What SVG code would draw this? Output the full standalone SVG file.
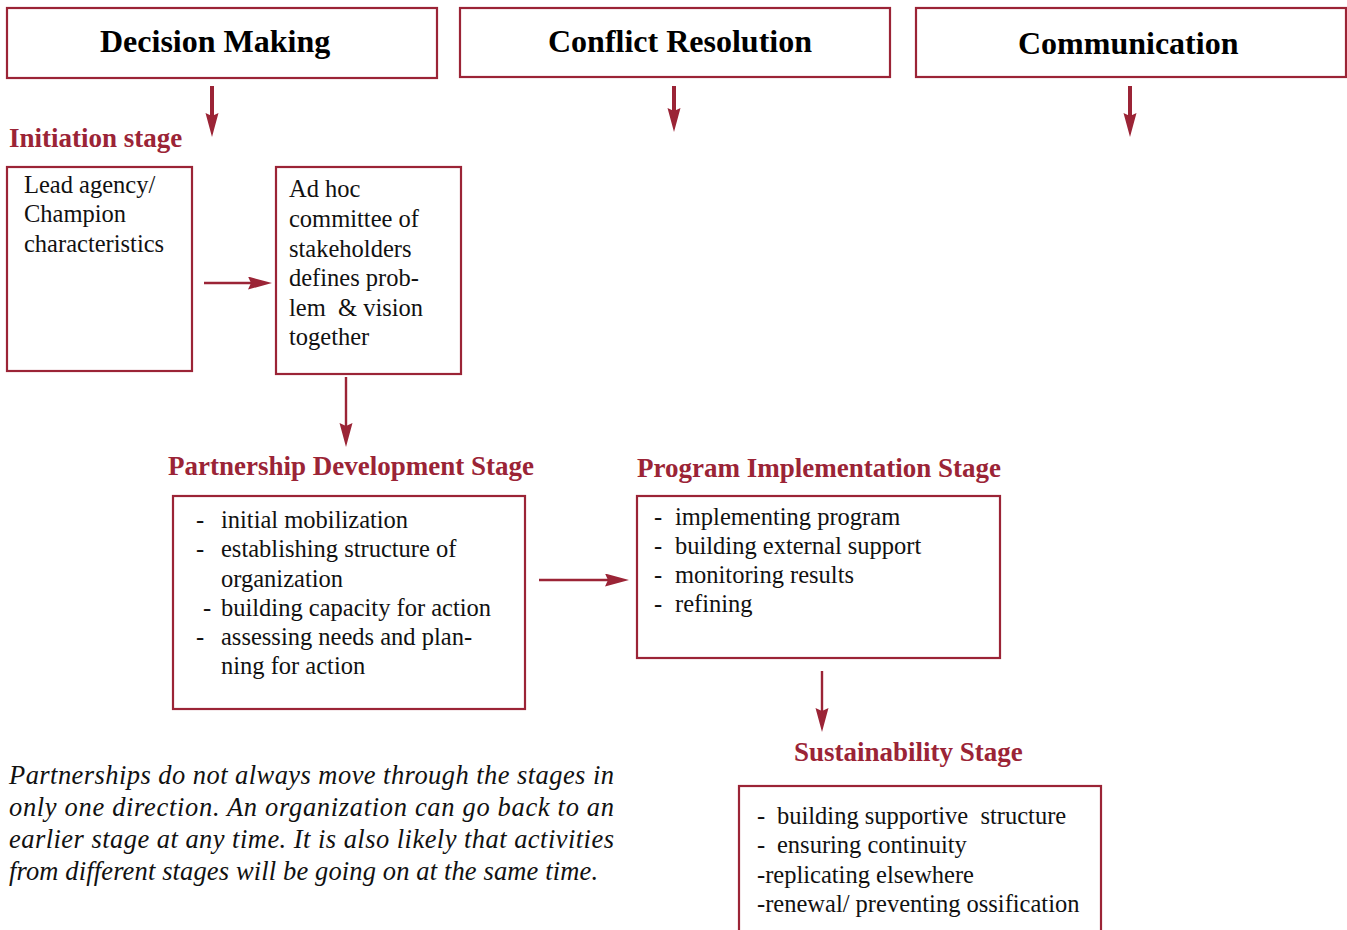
<svg xmlns="http://www.w3.org/2000/svg" width="1347" height="930" viewBox="0 0 1347 930">
  <defs>
    <style>
      .box { fill: #ffffff; stroke: #9b2436; stroke-width: 2.2; }
      .head { font-family: "Liberation Serif", "Times New Roman", serif; font-weight: bold; font-size: 32px; fill: #000000; }
      .stage { font-family: "Liberation Serif", "Times New Roman", serif; font-weight: bold; font-size: 27px; fill: #9b2436; }
      .body { font-family: "Liberation Serif", "Times New Roman", serif; font-size: 24.5px; fill: #111111; white-space: pre; }
      .note { font-family: "Liberation Serif", "Times New Roman", serif; font-style: italic; font-size: 26.5px; fill: #111111; }
      .conn { stroke: #9b2436; fill: none; }
      .thick { stroke-width: 4; }
      .thin { stroke-width: 2.4; }
    </style>
    <marker id="arrow" markerUnits="userSpaceOnUse" markerWidth="26" markerHeight="14" refX="14" refY="6.5" orient="auto">
      <path d="M0,0 L24,6.5 L0,13 L3,6.5 z" fill="#9b2436"/>
    </marker>
  </defs>

  <rect width="1347" height="930" fill="#ffffff"/>

  <!-- top category headers -->
  <g id="decision-making">
    <rect class="box" x="7" y="8" width="430" height="70"/>
    <text class="head" x="100" y="52">Decision Making</text>
  </g>
  <g id="conflict-resolution">
    <rect class="box" x="460" y="8" width="430" height="69"/>
    <text class="head" x="548" y="52">Conflict Resolution</text>
  </g>
  <g id="communication">
    <rect class="box" x="916" y="8" width="430" height="69"/>
    <text class="head" x="1018" y="54">Communication</text>
  </g>

  <!-- initiation stage -->
  <g id="initiation-label">
    <text class="stage" x="9" y="147">Initiation stage</text>
  </g>
  <g id="lead-agency">
    <rect class="box" x="7" y="167" width="185" height="204"/>
    <text class="body" x="24" y="193">Lead agency/</text>
    <text class="body" x="24" y="222">Champion</text>
    <text class="body" x="24" y="252">characteristics</text>
  </g>
  <g id="ad-hoc-committee">
    <rect class="box" x="276" y="167" width="185" height="207"/>
    <text class="body" x="289" y="197">Ad hoc</text>
    <text class="body" x="289" y="227">committee of</text>
    <text class="body" x="289" y="257">stakeholders</text>
    <text class="body" x="289" y="286">defines prob-</text>
    <text class="body" x="289" y="316">lem  &amp; vision</text>
    <text class="body" x="289" y="345">together</text>
  </g>

  <!-- partnership development stage -->
  <g id="partnership-development">
    <text class="stage" x="168" y="475">Partnership Development Stage</text>
    <rect class="box" x="173" y="496" width="352" height="213"/>
    <text class="body" x="196" y="528">-</text>
    <text class="body" x="221" y="528">initial mobilization</text>
    <text class="body" x="196" y="557">-</text>
    <text class="body" x="221" y="557">establishing structure of</text>
    <text class="body" x="221" y="587">organization</text>
    <text class="body" x="203" y="616">-</text>
    <text class="body" x="221" y="616">building capacity for action</text>
    <text class="body" x="196" y="645">-</text>
    <text class="body" x="221" y="645">assessing needs and plan-</text>
    <text class="body" x="221" y="674">ning for action</text>
  </g>

  <!-- program implementation stage -->
  <g id="program-implementation">
    <text class="stage" x="637" y="477">Program Implementation Stage</text>
    <rect class="box" x="637" y="496" width="363" height="162"/>
    <text class="body" x="654" y="525">-</text>
    <text class="body" x="675" y="525">implementing program</text>
    <text class="body" x="654" y="554">-</text>
    <text class="body" x="675" y="554">building external support</text>
    <text class="body" x="654" y="583">-</text>
    <text class="body" x="675" y="583">monitoring results</text>
    <text class="body" x="654" y="612">-</text>
    <text class="body" x="675" y="612">refining</text>
  </g>

  <!-- sustainability stage -->
  <g id="sustainability">
    <text class="stage" x="794" y="761">Sustainability Stage</text>
    <rect class="box" x="739" y="786" width="362" height="160"/>
    <text class="body" x="757" y="824">-</text>
    <text class="body" x="777" y="824">building supportive  structure</text>
    <text class="body" x="757" y="853">-</text>
    <text class="body" x="777" y="853">ensuring continuity</text>
    <text class="body" x="757" y="883">-replicating elsewhere</text>
    <text class="body" x="757" y="912">-renewal/ preventing ossification</text>
  </g>

  <!-- explanatory note -->
  <g id="note">
    <text class="note" x="9" y="784" textLength="605" lengthAdjust="spacing">Partnerships do not always move through the stages in</text>
    <text class="note" x="9" y="816" textLength="605" lengthAdjust="spacing">only one direction. An organization can go back to an</text>
    <text class="note" x="9" y="848" textLength="605" lengthAdjust="spacing">earlier stage at any time. It is also likely that activities</text>
    <text class="note" x="9" y="880" textLength="589" lengthAdjust="spacing">from different stages will be going on at the same time.</text>
  </g>

  <!-- connectors -->
  <g id="connectors">
    <line class="conn thick" x1="212" y1="86" x2="212" y2="127" marker-end="url(#arrow)"/>
    <line class="conn thick" x1="674" y1="86" x2="674" y2="122" marker-end="url(#arrow)"/>
    <line class="conn thick" x1="1130" y1="86" x2="1130" y2="127" marker-end="url(#arrow)"/>
    <line class="conn thin" x1="204" y1="283" x2="262" y2="283" marker-end="url(#arrow)"/>
    <line class="conn thin" x1="346" y1="377" x2="346" y2="437" marker-end="url(#arrow)"/>
    <line class="conn thin" x1="539" y1="580" x2="619" y2="580" marker-end="url(#arrow)"/>
    <line class="conn thin" x1="822" y1="671" x2="822" y2="722" marker-end="url(#arrow)"/>
  </g>
</svg>
